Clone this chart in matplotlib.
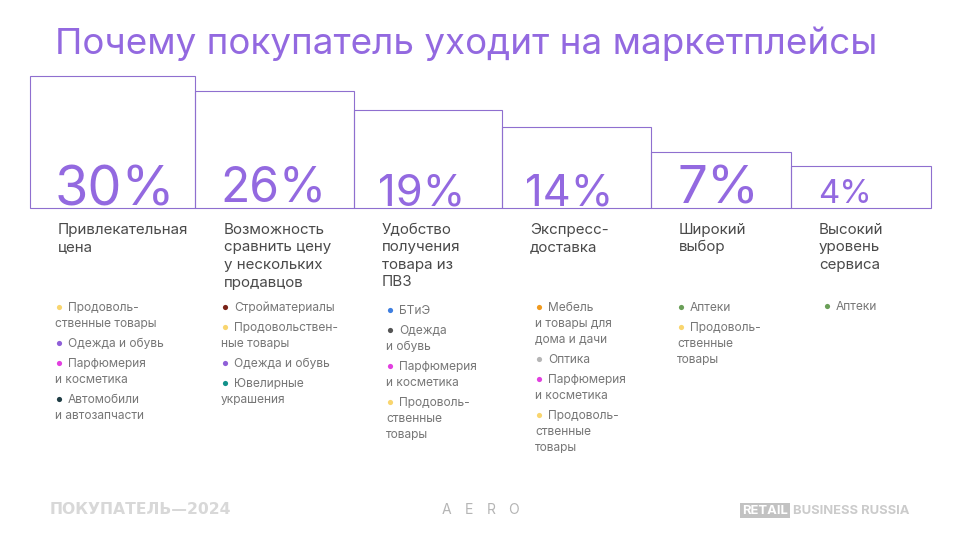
import matplotlib
matplotlib.use('Agg')
import matplotlib.pyplot as plt
import numpy as np

plt.rcParams['font.family'] = ['Inter', 'DejaVu Sans']

title = 'Почему покупатель уходит на маркетплейсы'
shares = [30, 26, 19, 14, 7, 4]
bar_widths = [165.5, 159, 148, 148.5, 140, 140]
bar_heights = [132.5, 117.5, 98.5, 81.5, 56.5, 42.5]
pct_px = [54, 48, 43.5, 43.5, 53, 33]
reasons = ['Привлекательная\nцена', 'Возможность\nсравнить цену\nу нескольких\nпродавцов',
           'Удобство\nполучения\nтовара из\nПВЗ', 'Экспресс-\nдоставка', 'Широкий\nвыбор',
           'Высокий\nуровень\nсервиса']

YEL = '#f9d56e'
PUR = '#8f5fd8'
PNK = '#e23fe0'
DRK = '#1f3d45'
GRN = '#6a9f58'
goods1 = ['Продоволь-\nственные товары', 'Одежда и обувь', 'Парфюмерия\nи косметика', 'Автомобили\nи автозапчасти']
goods2 = ['Стройматериалы', 'Продовольствен-\nные товары', 'Одежда и обувь', 'Ювелирные\nукрашения']
goods3 = ['БТиЭ', 'Одежда\nи обувь', 'Парфюмерия\nи косметика', 'Продоволь-\nственные\nтовары']
goods4 = ['Мебель\nи товары для\nдома и дачи', 'Оптика', 'Парфюмерия\nи косметика', 'Продоволь-\nственные\nтовары']
goods5 = ['Аптеки', 'Продоволь-\nственные\nтовары']
goods6 = ['Аптеки']
colors1 = [YEL, PUR, PNK, DRK]
colors2 = ['#7a2318', YEL, PUR, '#12918a']
colors3 = ['#3f7fe0', '#555555', PNK, YEL]
colors4 = ['#f09a1e', '#b5b5b5', PNK, YEL]
colors5 = [GRN, YEL]
colors6 = [GRN]
goods = [goods1, goods2, goods3, goods4, goods5, goods6]
colors = [colors1, colors2, colors3, colors4, colors5, colors6]

BASE = 208
LEFT = 29.7
pct_x = [55, 220, 378, 525, 677, 818]
pct_base = [205, 201, 206, 206, 203, 203]
head_x = [58, 224, 382, 530, 679, 819]
list_x = [55, 221, 386, 535, 677, 823]
list_y = [306.5, 306.5, 309.5, 306.5, 306.5, 305.5]

fig = plt.figure(figsize=(9.6, 5.4), dpi=100, facecolor='white')
ax = fig.add_axes([0, 0, 1, 1])
ax.set_xlim(0, 960)
ax.set_ylim(540, 0)
ax.axis('off')

px = 0.72  # font px -> pt at dpi 100
LINE = '#8f6fcf'
VIOLET = '#9369e0'

ax.text(55, 43.5, title, fontsize=36.8*px, color=VIOLET, va='center', ha='left')

lefts = LEFT + np.concatenate(([0], np.cumsum(bar_widths)[:-1]))
ax.bar(lefts, -np.array(bar_heights), width=bar_widths, bottom=BASE, align='edge',
       facecolor='none', edgecolor=LINE, linewidth=0.8)

for i, s in enumerate(shares):
    ax.text(pct_x[i], pct_base[i], f'{s}%', fontsize=pct_px[i]*px, color=VIOLET,
            va='baseline', ha='left')
    for n, line in enumerate(reasons[i].split('\n')):
        ax.text(head_x[i], 234 + n*17.5, line, fontsize=15.1*px, color='#4a4a4a', va='baseline', ha='left')

    y = list_y[i]
    for item, c in zip(goods[i], colors[i]):
        for n, line in enumerate(item.split('\n')):
            tx = list_x[i] + (13 if n == 0 else 0)
            ax.text(tx, y + 4.2, line, fontsize=12*px, color='#777777', va='baseline', ha='left')
            if n == 0:
                ax.scatter(list_x[i] + 4, y, s=14, color=c, linewidths=0)
            y += 16
        y += 4

ax.text(50, 510, 'ПОКУПАТЕЛЬ—2024', family='DejaVu Sans', fontweight='bold', fontsize=15.6*px,
        color='#d8d8d8', va='center', ha='left')
for x, ch in zip([442, 465, 487, 508], 'AERO'):
    ax.text(x, 510, ch, fontsize=14*px, color='#b5b5b5', va='center', ha='left')
ax.text(765, 510.5, 'RETAIL', fontweight='bold', fontsize=13*px, color='white', va='center', ha='center',
        bbox=dict(boxstyle='square,pad=0.14', facecolor='#c2c2c2', edgecolor='none'))
ax.text(793, 510.5, 'BUSINESS RUSSIA', fontweight='bold', fontsize=13*px, color='#cbcbcb', va='center', ha='left')

fig.savefig('out.png', dpi=100)
